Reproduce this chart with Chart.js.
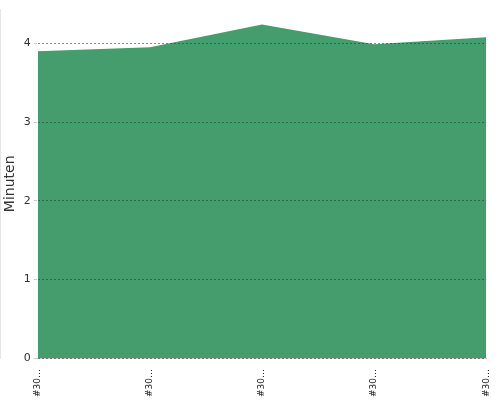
<!DOCTYPE html>
<html>
<head>
<script src="https://cdn.jsdelivr.net/npm/chart.js@4"></script>
<style>body{margin:0;background:#fff}#wrap{width:500px;height:400px}</style>
</head>
<body>
<div id="wrap"><canvas id="c"></canvas></div>
<script>
const labels = ['#3001', '#3002', '#3003', '#3004', '#3005'];
const minutes = [3.9, 3.95, 4.24, 3.99, 4.08];

new Chart(document.getElementById('c'), {
  type: 'line',
  data: {
    labels: labels,
    datasets: [{
      data: minutes,
      fill: 'origin',
      backgroundColor: '#459c6c',
      borderWidth: 0,
      pointRadius: 0,
      tension: 0
    }]
  },
  options: {
    responsive: true,
    maintainAspectRatio: false,
    animation: false,
    layout: { padding: { top: 4, right: 8 } },
    plugins: { legend: { display: false }, tooltip: { enabled: false } },
    scales: {
      x: {
        grid: { display: false },
        border: { color: '#ccc' },
        ticks: {
          color: '#222', font: { family: 'DejaVu Sans', size: 9 },
          maxRotation: 90, minRotation: 90,
          callback: function(v) { return this.getLabelForValue(v).slice(0, 3) + '…'; }
        }
      },
      y: {
        min: 0, max: 4.43,
        afterBuildTicks: (axis) => { axis.ticks = axis.ticks.filter(t => Number.isInteger(t.value)); },
        title: { display: true, text: 'Minuten', color: '#333', padding: 2, font: { family: 'DejaVu Sans', size: 14 } },
        border: { color: '#ccc', dash: [2, 2] },
        grid: { z: 1, color: 'rgba(60,60,60,0.6)', tickColor: '#ccc', tickLength: 4 },
        ticks: { stepSize: 1, color: '#333', font: { family: 'DejaVu Sans', size: 11 } }
      }
    }
  }
});
</script>
</body>
</html>
